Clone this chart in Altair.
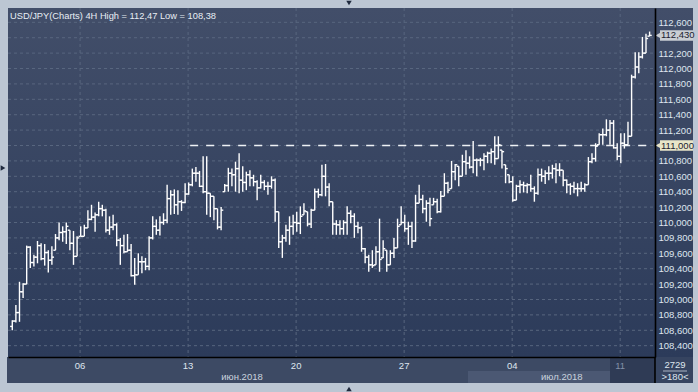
import altair as alt
import pandas as pd

# ---------------- data ----------------
bar_index = list(range(178))

opens = [
    108.65, 108.72, 108.83, 109.10, 109.20, 109.68, 109.48, 109.55, 109.70, 109.53,
    109.61, 109.51, 109.55, 109.80, 109.87, 109.88, 109.95, 109.73, 109.56, 109.80,
    109.82, 109.93, 110.04, 110.07, 110.10, 110.18, 110.16, 109.90, 109.94, 109.97,
    109.77, 109.70, 109.62, 109.64, 109.31, 109.32, 109.49, 109.49, 109.43, 109.80,
    109.95, 109.90, 110.00, 110.03, 110.31, 110.36, 110.23, 110.27, 110.26, 110.37,
    110.49, 110.64, 110.64, 110.47, 110.40, 110.38, 110.34, 110.18, 109.94, 110.16,
    110.48, 110.64, 110.62, 110.70, 110.55, 110.52, 110.62, 110.58, 110.53, 110.45,
    110.52, 110.47, 110.47, 110.55, 110.14, 109.75, 109.80, 109.90, 109.95, 110.00,
    109.99, 110.08, 110.15, 109.98, 110.16, 110.40, 110.36, 110.60, 110.46, 110.27,
    109.98, 109.97, 109.92, 110.00, 110.12, 110.08, 109.95, 109.93, 109.66, 109.55,
    109.45, 109.44, 109.62, 109.52, 109.66, 109.45, 109.60, 109.67, 109.95, 110.00,
    109.92, 109.95, 109.76, 110.25, 110.30, 110.18, 110.25, 110.05, 110.27, 110.14,
    110.34, 110.51, 110.42, 110.66, 110.75, 110.60, 110.79, 110.77, 110.72, 110.81,
    110.81, 110.81, 110.86, 110.90, 110.92, 110.83, 111.01, 110.92, 110.70, 110.53,
    110.29, 110.47, 110.49, 110.48, 110.49, 110.44, 110.38, 110.62, 110.60, 110.64,
    110.64, 110.70, 110.68, 110.68, 110.55, 110.49, 110.47, 110.44, 110.44, 110.44,
    110.49, 110.79, 110.83, 110.99, 111.14, 111.14, 111.20, 111.29, 110.97, 110.86,
    111.03, 111.01, 111.12, 111.89, 112.02, 112.15, 112.20, 112.39,
]
highs = [
    108.73, 108.93, 109.23, 109.21, 109.70, 109.69, 109.58, 109.76, 109.73, 109.72,
    109.64, 109.69, 109.85, 110.00, 109.95, 110.00, 109.90, 109.89, 109.82, 109.95,
    109.97, 110.16, 110.23, 110.13, 110.27, 110.23, 110.18, 110.08, 110.10, 109.99,
    109.80, 109.84, 109.85, 109.72, 109.54, 109.60, 109.56, 109.54, 109.82, 110.08,
    110.04, 110.08, 110.12, 110.49, 110.42, 110.43, 110.42, 110.29, 110.51, 110.52,
    110.70, 110.72, 110.67, 110.86, 110.86, 110.38, 110.34, 110.18, 110.20, 110.50,
    110.71, 110.70, 110.79, 110.90, 110.73, 110.66, 110.68, 110.62, 110.55, 110.62,
    110.55, 110.53, 110.60, 110.57, 110.14, 109.84, 109.97, 110.08, 110.10, 110.14,
    110.21, 110.25, 110.14, 110.18, 110.44, 110.44, 110.75, 110.76, 110.51, 110.27,
    110.03, 110.03, 110.03, 110.21, 110.16, 110.12, 110.01, 109.95, 109.67, 109.58,
    109.64, 109.69, 110.05, 109.77, 109.64, 109.64, 109.80, 110.05, 110.21, 110.10,
    110.01, 110.01, 110.36, 110.49, 110.36, 110.29, 110.32, 110.32, 110.31, 110.41,
    110.64, 110.53, 110.80, 110.76, 110.73, 110.88, 110.94, 110.86, 111.06, 110.83,
    110.84, 110.90, 110.92, 110.96, 111.12, 111.12, 110.94, 110.75, 110.62, 110.60,
    110.49, 110.55, 110.53, 110.51, 110.62, 110.47, 110.70, 110.70, 110.68, 110.73,
    110.75, 110.77, 110.77, 110.68, 110.56, 110.51, 110.53, 110.51, 110.53, 110.51,
    110.85, 110.90, 111.03, 111.16, 111.22, 111.34, 111.33, 111.33, 111.03, 111.16,
    111.16, 111.31, 111.92, 112.21, 112.21, 112.41, 112.45, 112.48,
]
lows = [
    108.60, 108.70, 108.71, 109.02, 109.20, 109.41, 109.43, 109.47, 109.51, 109.44,
    109.35, 109.45, 109.64, 109.77, 109.75, 109.72, 109.64, 109.45, 109.56, 109.82,
    109.82, 109.93, 110.03, 109.88, 110.08, 110.08, 109.87, 109.84, 109.90, 109.69,
    109.45, 109.60, 109.62, 109.30, 109.19, 109.32, 109.34, 109.38, 109.38, 109.78,
    109.84, 109.83, 109.97, 109.99, 110.10, 110.11, 110.10, 110.15, 110.25, 110.36,
    110.47, 110.53, 110.46, 110.38, 110.10, 110.07, 110.03, 109.91, 109.90, 110.40,
    110.40, 110.47, 110.40, 110.38, 110.40, 110.42, 110.47, 110.47, 110.29, 110.44,
    110.42, 110.36, 110.44, 110.01, 109.67, 109.54, 109.75, 109.71, 109.84, 109.88,
    109.85, 110.10, 109.95, 109.93, 110.16, 110.32, 110.34, 110.34, 110.21, 109.84,
    109.84, 109.84, 109.84, 109.84, 109.99, 109.80, 109.86, 109.62, 109.47, 109.36,
    109.41, 109.45, 109.36, 109.54, 109.36, 109.45, 109.54, 109.67, 109.97, 109.88,
    109.71, 109.67, 109.75, 110.25, 110.12, 110.01, 109.95, 110.23, 110.12, 110.13,
    110.34, 110.38, 110.44, 110.55, 110.47, 110.60, 110.62, 110.70, 110.64, 110.60,
    110.73, 110.68, 110.77, 110.77, 110.75, 110.83, 110.70, 110.51, 110.51, 110.27,
    110.29, 110.38, 110.39, 110.38, 110.40, 110.27, 110.36, 110.53, 110.50, 110.55,
    110.57, 110.51, 110.60, 110.47, 110.38, 110.36, 110.38, 110.34, 110.40, 110.40,
    110.49, 110.77, 110.79, 111.01, 111.01, 111.12, 111.01, 110.96, 110.81, 110.77,
    110.96, 111.01, 111.12, 111.87, 111.94, 112.13, 112.20, 112.42,
]
closes = [
    108.72, 108.83, 109.10, 109.20, 109.68, 109.48, 109.55, 109.70, 109.53, 109.61,
    109.51, 109.55, 109.80, 109.87, 109.88, 109.95, 109.73, 109.56, 109.80, 109.82,
    109.93, 110.04, 110.07, 110.10, 110.18, 110.16, 109.90, 109.94, 109.97, 109.77,
    109.70, 109.62, 109.64, 109.31, 109.32, 109.49, 109.49, 109.43, 109.80, 109.95,
    109.90, 110.00, 110.03, 110.31, 110.36, 110.23, 110.27, 110.26, 110.37, 110.49,
    110.64, 110.64, 110.47, 110.40, 110.38, 110.34, 110.18, 109.94, 110.16, 110.48,
    110.64, 110.62, 110.70, 110.55, 110.52, 110.62, 110.58, 110.53, 110.45, 110.52,
    110.47, 110.47, 110.55, 110.14, 109.75, 109.80, 109.90, 109.95, 110.00, 109.99,
    110.08, 110.15, 109.98, 110.16, 110.40, 110.36, 110.60, 110.46, 110.27, 109.98,
    109.97, 109.92, 110.00, 110.12, 110.08, 109.95, 109.93, 109.66, 109.55, 109.45,
    109.44, 109.62, 109.52, 109.66, 109.45, 109.60, 109.67, 109.95, 110.00, 109.92,
    109.95, 109.76, 110.25, 110.30, 110.18, 110.25, 110.05, 110.27, 110.14, 110.34,
    110.51, 110.42, 110.66, 110.75, 110.60, 110.79, 110.77, 110.72, 110.81, 110.81,
    110.81, 110.86, 110.90, 110.92, 110.83, 111.01, 110.92, 110.70, 110.53, 110.29,
    110.47, 110.49, 110.48, 110.49, 110.44, 110.38, 110.62, 110.60, 110.64, 110.64,
    110.70, 110.68, 110.68, 110.55, 110.49, 110.47, 110.44, 110.44, 110.44, 110.49,
    110.79, 110.83, 110.99, 111.14, 111.14, 111.20, 111.29, 110.97, 110.86, 111.03,
    111.01, 111.12, 111.89, 112.02, 112.15, 112.20, 112.39, 112.43,
]

y_ticks = [108.4, 108.6, 108.8, 109.0, 109.2, 109.4, 109.6, 109.8, 110.0, 110.2,
           110.4, 110.6, 110.8, 111.0, 111.2, 111.4, 111.6, 111.8, 112.0, 112.2,
           112.4, 112.6]
y_ticks_covered = [111.0, 112.4]
date_tick_pos = [18.83, 48.83, 78.83, 108.83, 138.83, 168.83]
date_tick_labels = ["06", "13", "20", "27", "04", "11"]
month_pos = [63.8, 152.6]
month_labels = ["июн.2018", "июл.2018"]
level_value = [111.0]
level_from = [49.4]
level_to = [176.6]
marker_values = [112.43, 111.0]
marker_texts = ["112,430", "111,000"]
title_text = "USD/JPY(Charts) 4H High = 112,47 Low = 108,38"
corner_top = ["2729"]
corner_bottom = [">180<"]

# ---------------- chart ----------------
W, H = 647, 349
FONT = "Liberation Sans"
LABEL = "#dfe6ef"
GRID = "#58667f"

xs = alt.Scale(domain=[-1.19, 178.5], nice=False, zero=False)
ys = alt.Scale(domain=[108.253, 112.786], nice=False, zero=False)

x_axis = alt.Axis(values=date_tick_pos, labels=False, ticks=False, grid=False,
                  domain=True, domainColor="#000000", domainWidth=1.6,
                  title=None, zindex=1)
y_axis = alt.Axis(orient="right",
                  values=[v for v in y_ticks if v not in y_ticks_covered],
                  labelExpr="replace(format(datum.value, '.3f'), '.', ',')",
                  grid=False, ticks=False, domain=True, domainColor="#000000",
                  domainWidth=1.6, labelColor=LABEL, labelFont=FONT,
                  labelFontSize=9.5, labelPadding=3, labelOverlap=False,
                  title=None, zindex=1)


def X(field):
    return alt.X(field, type="quantitative", scale=xs, axis=x_axis)


def Y(field):
    return alt.Y(field, type="quantitative", scale=ys, axis=y_axis)


one = pd.DataFrame({"k": [0]})

bars = pd.DataFrame({"i": bar_index, "o": opens, "h": highs, "l": lows, "c": closes})
bars["o"] = bars[["o", "l"]].max(axis=1)
bars["o"] = bars[["o", "h"]].min(axis=1)
bars["xl"] = bars["i"] - 0.6
bars["xr"] = bars["i"] + 0.6

grad = alt.Gradient(
    gradient="linear",
    stops=[alt.GradientStop(color="#424e69", offset=0),
           alt.GradientStop(color="#2c3b5a", offset=1)],
    x1=0, x2=0, y1=0, y2=1,
)

background = alt.Chart(one).mark_rect(color=grad).encode(
    x=alt.value(0), x2=alt.value(685), y=alt.value(0), y2=alt.value(H))


def panel(x0, x1, y0, y1, color):
    return alt.Chart(one).mark_rect(color=color).encode(
        x=alt.value(x0), x2=alt.value(x1), y=alt.value(y0), y2=alt.value(y1))


bottom_panel = panel(-1, 685, H, H + 26, "#3d4a64")
july_band = panel(460, 602, H + 14, H + 26, "#4b5873")
last_week = panel(602, 647, H, H + 26, "#2f3b55")
corner_panel = panel(648, 685, H, H + 26, "#364460")

hgrid = alt.Chart(pd.DataFrame({"v": y_ticks})).mark_rule(
    color=GRID, strokeDash=[3, 3], strokeWidth=1).encode(
    y=Y("v"), x=alt.value(0), x2=alt.value(W))
vgrid = alt.Chart(pd.DataFrame({"p": date_tick_pos})).mark_rule(
    color=GRID, strokeDash=[3, 3], strokeWidth=1).encode(
    x=X("p"), y=alt.value(0), y2=alt.value(H))

level = alt.Chart(pd.DataFrame({"v": level_value, "a": level_from, "b": level_to})).mark_rule(
    color="#eef1f5", strokeDash=[8, 8], strokeWidth=1.3).encode(
    x=X("a"), x2="b:Q", y=Y("v"))

ranges = alt.Chart(bars).mark_rule(color="#ffffff", strokeWidth=1.4).encode(
    x=X("i"), y=Y("l"), y2="h:Q")
open_ticks = alt.Chart(bars).mark_rule(color="#ffffff", strokeWidth=1.4).encode(
    x=X("xl"), x2="i:Q", y=Y("o"))
close_ticks = alt.Chart(bars).mark_rule(color="#ffffff", strokeWidth=1.4).encode(
    x=X("i"), x2="xr:Q", y=Y("c"))

mk = pd.DataFrame({"v": marker_values, "t": marker_texts})
mk["lo"] = mk["v"] - 0.068
mk["hi"] = mk["v"] + 0.068
box_color = alt.condition(alt.datum.t == "111,000", alt.value("#e8e5c8"), alt.value("#c9cdd3"))
marker_box = alt.Chart(mk).mark_rect().encode(
    x=alt.value(652), x2=alt.value(685), y=Y("lo"), y2="hi:Q", color=box_color)
marker_arrow = alt.Chart(mk).mark_point(shape="triangle-left", filled=True, size=45, opacity=1).encode(
    x=alt.value(650.5), y=Y("v"), color=box_color)
marker_text = alt.Chart(mk).mark_text(align="left", baseline="middle", font=FONT,
                                      fontSize=9.5, color="#1c2230").encode(
    x=alt.value(653), y=Y("v"), text="t:N")

date_labels = alt.Chart(pd.DataFrame({"p": date_tick_pos, "t": date_tick_labels})).mark_text(
    align="center", baseline="middle", font=FONT, fontSize=9.5).encode(
    x=X("p"), y=alt.value(H + 9), text="t:N",
    color=alt.condition(alt.datum.t == "11", alt.value("#8290a8"), alt.value(LABEL)))
month_text = alt.Chart(pd.DataFrame({"p": month_pos, "t": month_labels})).mark_text(
    align="center", baseline="middle", font=FONT, fontSize=9.5, color="#c9d2de").encode(
    x=X("p"), y=alt.value(H + 20), text="t:N")

title = alt.Chart(one).mark_text(align="left", baseline="middle", font=FONT, fontSize=9.3,
                                 color="#e8edf4", text=title_text).encode(
    x=alt.value(2), y=alt.value(7.5))

corner_a = alt.Chart(pd.DataFrame({"t": corner_top})).mark_text(
    align="center", baseline="middle", font=FONT, fontSize=9.5, color=LABEL).encode(
    x=alt.value(667), y=alt.value(H + 8), text="t:N")
corner_b = alt.Chart(pd.DataFrame({"t": corner_bottom})).mark_text(
    align="center", baseline="middle", font=FONT, fontSize=9.5, color=LABEL).encode(
    x=alt.value(667), y=alt.value(H + 20), text="t:N")
corner_line = alt.Chart(one).mark_rule(color="#aab4c4", strokeWidth=1).encode(
    x=alt.value(655), x2=alt.value(679), y=alt.value(H + 14))
sep_line = alt.Chart(one).mark_rule(color="#000000", strokeWidth=1.6).encode(
    x=alt.value(W), y=alt.value(H), y2=alt.value(H + 26))


def tri(shape, x, y):
    return alt.Chart(one).mark_point(shape=shape, filled=True, size=30, color="#1f2a3e", opacity=1).encode(
        x=alt.value(x), y=alt.value(y))


chart = alt.layer(
    background, bottom_panel, july_band, last_week, corner_panel,
    hgrid, vgrid, level,
    ranges, open_ticks, close_ticks,
    marker_box, marker_arrow, marker_text,
    date_labels, month_text, title,
    corner_a, corner_b, corner_line, sep_line,
    tri("triangle-down", 341, -5), tri("triangle-up", 341, 381), tri("triangle-right", -5, 160),
).properties(
    width=W, height=H,
    padding={"left": 8, "top": 8, "right": 43, "bottom": 35},
    autosize=alt.AutoSizeParams(type="none"),
).configure(background="#bcc6d3").configure_view(stroke=None)

chart.save("out.html", embed_options={"renderer": "svg", "actions": False})
